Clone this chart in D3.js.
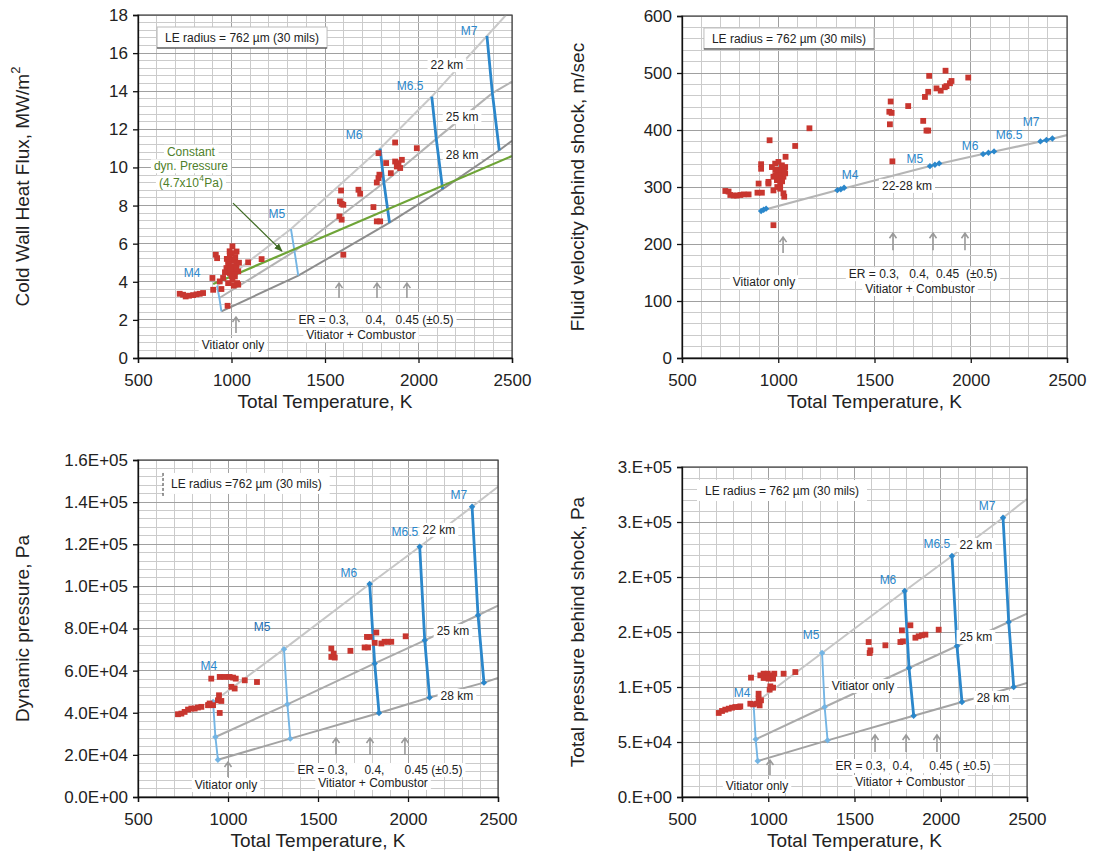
<!DOCTYPE html>
<html>
<head>
<meta charset="utf-8">
<script src="https://cdn.jsdelivr.net/npm/d3@7"></script>
<style>
  body { margin: 0; background: #fff; }
  svg { font-family: "Liberation Sans", Arial, sans-serif; }
</style>
</head>
<body>
<div id="drawing"></div>
<script>
// ---------- data ----------
const tempTicks = [500, 1000, 1500, 2000, 2500];
const machNames = ["M4", "M5", "M6", "M6.5", "M7"];

// panel A : cold wall heat flux (MW/m2)
const hfTickLabels = ["0", "2", "4", "6", "8", "10", "12", "14", "16", "18"];
const hfRedT = [723,741,755,773,795,813,830,848,
  1005,1027,991,1018,982,1000,1027,973,1009,1036,991,1018,955,1030,982,916,923,898,902,946,979,1036,1089,1161,937,
  1000,1010,995,1015,1005,985,990,1020,975,1040,1000,1025,965,1012,
  1586,1580,1589,1598,1577,1589,1679,1688,1759,1598,
  1786,1827,1791,1786,1777,1852,1875,1893,1911,1884,1902,1875,1991,1777,1795];
const hfRedQ = [3.37,3.32,3.23,3.27,3.30,3.34,3.37,3.41,
  5.86,5.59,5.33,5.16,4.98,4.81,4.9,4.72,4.63,4.55,4.46,4.28,4.2,3.93,3.93,5.42,5.24,4.2,3.58,3.62,2.74,3.85,5.02,5.19,4.02,
  5.5,5.1,4.6,4.4,4.1,5.1,5.6,5.3,5.2,5.0,4.3,4.7,4.5,3.8,
  8.79,8.22,8.09,8.04,7.43,7.26,8.83,8.62,7.92,5.42,
  10.75,10.23,9.62,9.44,9.21,9.7,10.31,10.23,10.4,10.05,9.97,11.31,11.01,7.17,7.17];
const hf22T = [923, 1318, 1795, 2071, 2366, 2468];
const hf22Q = [3.79, 6.77, 10.99, 13.72, 16.9, 18];
const hf25T = [935, 1337, 1815, 2095, 2395, 2500];
const hf25Q = [3.15, 5.6, 9.2, 11.5, 13.9, 14.5];
const hf28T = [946, 1357, 1845, 2129, 2432, 2500];
const hf28Q = [2.45, 4.32, 7.1, 8.86, 10.9, 11.4];
const hfDynT = [902, 2500];
const hfDynQ = [3.88, 10.6];

// panel B : fluid velocity behind shock (m/s)
const velTickLabels = ["0", "100", "200", "300", "400", "500", "600"];
const velRedT = [725,742,751,768,786,803,820,846,892,915,
  911,911,955,949,898,967,984,1001,1019,1036,993,1010,1027,975,993,1010,1036,949,975,1027,1031,1038,1088,1162,975,
  985,1000,1015,1030,1005,1020,995,1010,985,
  1584,1577,1589,1580,1675,1593,1753,1779,1770,1762,1779,1784,1822,1844,1874,1892,1900,1869,1987,1865];
const velRedV = [293,292,286,285,285,286,287,287,290,290,
  340,332,382,306,306,335,341,344,338,335,330,324,318,318,312,306,324,309,294,289,283,353,372,403,233,
  330,325,330,328,315,310,300,297,320,
  450,432,430,410,442,345,416,399,399,458,467,495,473,469,477,482,486,504,492,475];
const velLineT = [906, 1325, 1814, 2092, 2393, 2500];
const velLineV = [258, 296, 339, 360, 382, 391];
const velDiaT = [911,924,937, 1307,1325,1342, 1788,1814,1836, 2064,2092,2121, 2362,2393,2424];
const velDiaV = [258,260,262, 294.5,296,298.6, 336.6,339,341.4, 357.7,360,362.5, 380,382.4,385.2];

// panel C : dynamic pressure (Pa)
const dpTickLabels = ["0.0E+00","2.0E+04","4.0E+04","6.0E+04","8.0E+04","1.0E+05","1.2E+05","1.4E+05","1.6E+05"];
const dpRedT = [722,741,759,778,796,815,833,852,889,898,
  907,954,981,1009,1028,1043,1093,1161,1019,1037,950,944,963,954,894,917,
  1574,1587,1574,1593,1680,1759,1778,1787,1824,1815,1852,1870,1889,1907,1987,1772];
const dpRedP = [39300,39600,40400,41500,42000,42000,42500,42800,43600,44400,
  56200,57000,57000,57000,56700,56200,55400,54600,52300,51500,48300,45900,45600,39900,43600,43600,
  70500,68100,66500,66200,69400,71000,71000,76000,78100,73200,72900,73700,73700,73700,76300,76000];
const dp22T = [917, 1311, 1787, 2065, 2356, 2500];
const dp22P = [45100, 70200, 101100, 118800, 137800, 147300];
const dp25T = [930, 1330, 1815, 2093, 2389, 2500];
const dp25P = [28500, 44000, 63400, 74400, 86300, 90800];
const dp28T = [944, 1346, 1839, 2120, 2422, 2500];
const dp28P = [17700, 27700, 39900, 47200, 54300, 56500];

// panel D : total pressure behind shock (Pa)
const tpTickLabels = ["0.E+00","5.E+04","1.E+05","2.E+05","2.E+05","3.E+05","3.E+05"];
const tpRedT = [713,732,751,771,790,809,829,838,896,912,
  900,954,973,997,1016,1035,973,1002,1028,1089,1157,1012,1028,1008,944,944,958,950,935,
  1582,1592,1588,1679,1766,1781,1775,1824,1853,1872,1891,1911,1988];
const tpRedP = [76400,78200,79400,80300,81200,81800,81800,82400,84800,84200,
  108500,110600,112100,112100,110600,112100,108200,107600,107600,112100,113600,100600,99400,97600,93900,89400,87900,83300,84800,
  140900,133300,130900,137900,140900,141500,151500,156100,144800,146100,147000,147600,152100];
const tp22T = [915, 1312, 1791, 2065, 2361, 2500];
const tp22P = [84200, 130900, 187300, 219100, 253900, 270900];
const tp25T = [927, 1327, 1816, 2094, 2394, 2500];
const tp25P = [52400, 81800, 117300, 137300, 159100, 166700];
const tp28T = [939, 1344, 1843, 2123, 2423, 2500];
const tp28P = [32700, 51500, 73900, 86400, 100000, 103600];

// ---------- drawing ----------
const W = 1098, H = 861;
const red = "#c8362f", blueDark = "#2b87cb", blueLight = "#74b5e4";
const svg = d3.select("#drawing").append("svg").attr("width", W).attr("height", H);

const defs = svg.append("defs");
defs.append("marker").attr("id", "greenHead").attr("viewBox", "0 0 10 10")
  .attr("refX", 9).attr("refY", 5).attr("markerWidth", 7).attr("markerHeight", 7)
  .attr("orient", "auto").append("path").attr("d", "M0,1 L10,5 L0,9 z").attr("fill", "#3e6a22");

// text with optional white patch; patches go to the ann group's bottom layer
function label(g, px, py, text, o = {}) {
  const t = g.append("text").attr("x", px).attr("y", py)
    .attr("text-anchor", o.anchor || "middle").attr("dominant-baseline", "central")
    .attr("font-size", o.size || 12).attr("fill", o.color || "#222")
    .style("white-space", "pre").text(text);
  if (o.bg) whiteUnder(g, t);
  return t;
}

function whiteUnder(g, t) {
  const b = t.node().getBBox();
  g.select(".bgl").append("rect")
    .attr("x", b.x - 3).attr("y", b.y).attr("width", b.width + 6).attr("height", b.height)
    .attr("fill", "#fff");
}

function upArrow(g, px, y0, y1) {
  g.append("path")
    .attr("d", `M${px},${y1} L${px},${y0} M${px - 3.5},${y0 + 5} L${px},${y0} L${px + 3.5},${y0 + 5}`)
    .attr("fill", "none").attr("stroke", "#9a9a9a").attr("stroke-width", 1.6);
}

function diamond(g, px, py, color) {
  g.append("path").attr("d", `M${px},${py - 3.2} L${px + 3.2},${py} L${px},${py + 3.2} L${px - 3.2},${py} z`)
    .attr("fill", color);
}

function drawPanel(p) {
  const x = d3.scaleLinear().domain([500, 2500]).range([p.left, p.right]);
  const y = d3.scaleLinear().domain([0, p.ymax]).range([p.bottom, p.top]);
  const g = svg.append("g");
  const nMajor = p.yLabels.length - 1;
  const minor = p.ymax / nMajor / 5;

  const grid = g.append("g").attr("shape-rendering", "crispEdges");
  grid.selectAll(".vx").data(d3.range(500, 2501, 100)).join("line")
    .attr("x1", d => x(d)).attr("x2", d => x(d)).attr("y1", p.top).attr("y2", p.bottom)
    .attr("stroke", d => d % 500 === 0 ? "#a0a0a0" : "#cbcbcb");
  grid.selectAll(".hy").data(d3.range(0, nMajor * 5 + 1)).join("line")
    .attr("x1", p.left).attr("x2", p.right).attr("y1", i => y(i * minor)).attr("y2", i => y(i * minor))
    .attr("stroke", i => i % 5 === 0 ? "#a0a0a0" : "#cbcbcb");

  const clipId = "clip" + p.id;
  defs.append("clipPath").attr("id", clipId).append("rect")
    .attr("x", p.left).attr("y", p.top).attr("width", p.right - p.left).attr("height", p.bottom - p.top);
  const plot = g.append("g").attr("clip-path", `url(#${clipId})`);
  const ann = g.append("g");
  ann.append("g").attr("class", "bgl");

  p.draw(plot, ann, x, y);

  g.append("rect").attr("x", p.left).attr("y", p.top)
    .attr("width", p.right - p.left).attr("height", p.bottom - p.top)
    .attr("fill", "none").attr("stroke", "#444").attr("stroke-width", 1.2);

  const ax = g.append("g").attr("transform", `translate(0,${p.bottom})`)
    .call(d3.axisBottom(x).tickValues(tempTicks).tickSize(5).tickPadding(11).tickFormat(d3.format("d")));
  const yVals = d3.range(0, nMajor + 1).map(i => i * p.ymax / nMajor);
  const ay = g.append("g").attr("transform", `translate(${p.left},0)`)
    .call(d3.axisLeft(y).tickValues(yVals).tickSize(5).tickPadding(5).tickFormat((d, i) => p.yLabels[i]));
  [ax, ay].forEach(a => {
    a.selectAll("text").attr("font-size", 17).attr("font-family", "Liberation Sans, Arial, sans-serif").attr("fill", "#222");
    a.selectAll("line, path").attr("stroke", "#111").attr("stroke-width", 1.3);
  });

  g.append("text").attr("x", (p.left + p.right) / 2).attr("y", p.bottom + 50)
    .attr("text-anchor", "middle").attr("font-size", 19).attr("fill", "#222").text("Total Temperature, K");
  const yt = g.append("text")
    .attr("transform", `translate(${p.titleX},${(p.top + p.bottom) / 2}) rotate(-90)`)
    .attr("text-anchor", "middle").attr("dominant-baseline", "central")
    .attr("font-size", 19).attr("fill", "#222");
  p.title(yt);
}

// altitude lines + Mach segments
function drawAltitude(plot, x, y, lines, colors, withDiamonds) {
  const lg = d3.line().x(d => x(d[0])).y(d => y(d[1]));
  lines.forEach((l, k) => {
    plot.append("path").attr("d", lg(d3.zip(l[0], l[1])))
      .attr("fill", "none").attr("stroke", colors[k]).attr("stroke-width", 2);
  });
  machNames.forEach((m, i) => {
    const pts = lines.map(l => [l[0][i], l[1][i]]);
    const heavy = i >= 2;
    const c = heavy ? blueDark : blueLight;
    plot.append("path").attr("d", lg(pts)).attr("fill", "none")
      .attr("stroke", c).attr("stroke-width", heavy ? 2.8 : 1.9);
    if (withDiamonds) pts.forEach(q => diamond(plot, x(q[0]), y(q[1]), c));
  });
}

function redSquares(plot, x, y, ts, vs) {
  plot.selectAll(".red").data(d3.zip(ts, vs)).join("rect")
    .attr("x", d => x(d[0]) - 2.9).attr("y", d => y(d[1]) - 2.9)
    .attr("width", 5.8).attr("height", 5.8).attr("fill", red);
}

function leBox(ann, x, y, t, v, text, style) {
  const bx = x(t), by = y(v);
  const tt = label(ann, bx + 8, by + 11, text, { anchor: "start", size: 12 });
  const w = tt.node().getBBox().width + 16;
  ann.select(".bgl").append("rect").attr("x", bx).attr("y", by).attr("width", w).attr("height", 21)
    .attr("fill", "#fff").attr("stroke", style === "under" ? "#bbb" : "none");
  if (style === "under") ann.append("line").attr("x1", bx).attr("x2", bx + w).attr("y1", by + 21).attr("y2", by + 21)
    .attr("stroke", "#333").attr("stroke-width", 1);
  if (style === "dash") ann.append("line").attr("x1", bx).attr("x2", bx).attr("y1", by).attr("y2", by + 24)
    .attr("stroke", "#333").attr("stroke-dasharray", "3,2");
}

// ---------- panel A ----------
drawPanel({
  id: "A", left: 138, right: 512, top: 15, bottom: 358, ymax: 18, yLabels: hfTickLabels, titleX: 22,
  title: t => { t.append("tspan").text("Cold Wall Heat Flux, MW/m"); t.append("tspan").attr("dy", -7).attr("font-size", 13).text("2"); },
  draw: (plot, ann, x, y) => {
    drawAltitude(plot, x, y, [[hf22T, hf22Q], [hf25T, hf25Q], [hf28T, hf28Q]], ["#c9c9c9", "#b3b3b3", "#8e8e8e"], false);
    plot.append("path").attr("d", d3.line().x(d => x(d[0])).y(d => y(d[1]))(d3.zip(hfDynT, hfDynQ)))
      .attr("stroke", "#6ea437").attr("stroke-width", 2.2).attr("fill", "none");
    redSquares(plot, x, y, hfRedT, hfRedQ);
    leBox(ann, x, y, 602, 17.37, "LE radius = 762 \u00b5m (30 mils)", "under");
    [[789, 4.46], [1243, 7.55], [1655, 11.7], [1955, 14.27], [2270, 17.16]].forEach((d, i) =>
      label(ann, x(d[0]), y(d[1]), machNames[i], { color: blueDark, size: 12 }));
    label(ann, x(2152), y(15.37), "22 km", { bg: true });
    label(ann, x(2233), y(12.64), "25 km", { bg: true });
    label(ann, x(2233), y(10.65), "28 km", { bg: true });
    const green = "#4f7f2a";
    label(ann, x(783), y(10.82), "Constant", { color: green, size: 12, bg: true });
    label(ann, x(783), y(10.06), "dyn. Pressure", { color: green, size: 12, bg: true });
    // third line in three pieces so the superscript sits on its own
    const cy = y(9.2);
    const p1 = label(ann, 0, cy, "(4.7x10", { anchor: "start", color: green, size: 12 });
    const w1 = p1.node().getBBox().width;
    const p2 = ann.append("text").attr("y", cy - 4.6).attr("dominant-baseline", "central")
      .attr("font-size", 8.5).attr("fill", green).text("4");
    const w2 = p2.node().getBBox().width;
    const p3 = label(ann, 0, cy, "Pa)", { anchor: "start", color: green, size: 12 });
    const w3 = p3.node().getBBox().width;
    const x0 = x(783) - (w1 + w2 + w3) / 2;
    p1.attr("x", x0); p2.attr("x", x0 + w1); p3.attr("x", x0 + w1 + w2);
    ann.select(".bgl").append("rect").attr("x", x0 - 3).attr("y", cy - 7).attr("width", w1 + w2 + w3 + 6)
      .attr("height", 14).attr("fill", "#fff");
    ann.append("line").attr("x1", x(1008)).attr("y1", y(8.13)).attr("x2", x(1270)).attr("y2", y(5.61))
      .attr("stroke", "#3e6a22").attr("stroke-width", 1.2).attr("marker-end", "url(#greenHead)");
    [1575, 1778, 1938].forEach(t => upArrow(ann, x(t), y(3.93), y(3.15)));
    upArrow(ann, x(1024), y(2.15), y(1.31));
    label(ann, x(1773), y(2.0), "ER = 0.3,     0.4,   0.45 (\u00b10.5)", { bg: true });
    label(ann, x(1693), y(1.2), "Vitiator + Combustor", { bg: true });
    label(ann, x(1008), y(0.68), "Vitiator only", { bg: true });
  }
});

// ---------- panel B ----------
drawPanel({
  id: "B", left: 682, right: 1067, top: 16, bottom: 358, ymax: 600, yLabels: velTickLabels, titleX: 577,
  title: t => t.text("Fluid velocity behind shock, m/sec"),
  draw: (plot, ann, x, y) => {
    plot.append("path").attr("d", d3.line().x(d => x(d[0])).y(d => y(d[1]))(d3.zip(velLineT, velLineV)))
      .attr("stroke", "#b5b5b5").attr("stroke-width", 2.2).attr("fill", "none");
    d3.zip(velDiaT, velDiaV).forEach(d => diamond(plot, x(d[0]), y(d[1]), blueDark));
    for (let i = 0; i < velDiaT.length; i += 3) {
      plot.append("line").attr("x1", x(velDiaT[i])).attr("y1", y(velDiaV[i]))
        .attr("x2", x(velDiaT[i + 2])).attr("y2", y(velDiaV[i + 2])).attr("stroke", blueDark).attr("stroke-width", 2);
    }
    redSquares(plot, x, y, velRedT, velRedV);
    leBox(ann, x, y, 614, 579, "LE radius = 762 \u00b5m (30 mils)", "under");
    [[1373, 321], [1710, 349], [1996, 372], [2199, 391], [2313, 414]].forEach((d, i) =>
      label(ann, x(d[0]), y(d[1]), machNames[i], { color: blueDark, size: 12 }));
    label(ann, x(1669), y(302), "22-28 km", { bg: true });
    upArrow(ann, x(1025), y(212), y(184));
    [1596, 1804, 1970].forEach(t => upArrow(ann, x(t), y(219), y(189)));
    label(ann, x(1752), y(147), "ER = 0.3,   0.4,  0.45  (\u00b10.5)", { bg: true });
    label(ann, x(1736), y(121), "Vitiator + Combustor", { bg: true });
    label(ann, x(926), y(133), "Vitiator only", { bg: true });
  }
});

// ---------- panel C ----------
drawPanel({
  id: "C", left: 138, right: 498, top: 460, bottom: 797, ymax: 160000, yLabels: dpTickLabels, titleX: 22,
  title: t => t.text("Dynamic pressure, Pa"),
  draw: (plot, ann, x, y) => {
    drawAltitude(plot, x, y, [[dp22T, dp22P], [dp25T, dp25P], [dp28T, dp28P]], ["#c6c6c6", "#ababab", "#a3a3a3"], true);
    redSquares(plot, x, y, dpRedT, dpRedP);
    leBox(ann, x, y, 639, 153846, "LE radius =762 \u00b5m (30 mils)", "dash");
    [[894, 62200], [1189, 80700], [1672, 106400], [1983, 125800], [2283, 143400]].forEach((d, i) =>
      label(ann, x(d[0]), y(d[1]), machNames[i], { color: i === 1 ? "#1f6fb3" : blueDark, size: 12 }));
    label(ann, x(2172), y(126800), "22 km", { bg: true });
    label(ann, x(2250), y(78800), "25 km", { bg: true });
    label(ann, x(2272), y(48000), "28 km", { bg: true });
    upArrow(ann, x(1000), y(16600), y(9500));
    [1600, 1789, 1983].forEach(t => upArrow(ann, x(t), y(28000), y(19900)));
    label(ann, x(1844), y(12800), "ER = 0.3,     0.4,      0.45 (\u00b10.5)", { bg: true });
    label(ann, x(1806), y(6650), "Vitiator + Combustor", { bg: true });
    label(ann, x(989), y(5700), "Vitiator only", { bg: true });
  }
});

// ---------- panel D ----------
drawPanel({
  id: "D", left: 682, right: 1027, top: 467, bottom: 797, ymax: 300000, yLabels: tpTickLabels, titleX: 577,
  title: t => t.text("Total pressure behind shock, Pa"),
  draw: (plot, ann, x, y) => {
    drawAltitude(plot, x, y, [[tp22T, tp22P], [tp25T, tp25P], [tp28T, tp28P]], ["#c6c6c6", "#ababab", "#a3a3a3"], true);
    redSquares(plot, x, y, tpRedT, tpRedP);
    leBox(ann, x, y, 587, 288182, "LE radius = 762 \u00b5m (30 mils)", "plain");
    [[848, 94500], [1248, 147300], [1694, 197300], [1978, 230000], [2268, 264500]].forEach((d, i) =>
      label(ann, x(d[0]), y(d[1]), machNames[i], { color: blueDark, size: 12 }));
    label(ann, x(2204), y(229100), "22 km", { bg: true });
    label(ann, x(2204), y(145500), "25 km", { bg: true });
    label(ann, x(2303), y(90000), "28 km", { bg: true });
    label(ann, x(1549), y(100900), "Vitiator only", { bg: true });
    upArrow(ann, x(1010), y(33600), y(20000));
    [1619, 1799, 1978].forEach(t => upArrow(ann, x(t), y(56400), y(40900)));
    label(ann, x(1839), y(28200), "ER = 0.3,  0.4,     0.45 ( \u00b10.5)", { bg: true });
    label(ann, x(1822), y(13600), "Vitiator + Combustor", { bg: true });
    label(ann, x(935), y(10000), "Vitiator only", { bg: true });
  }
});
</script>
</body>
</html>
